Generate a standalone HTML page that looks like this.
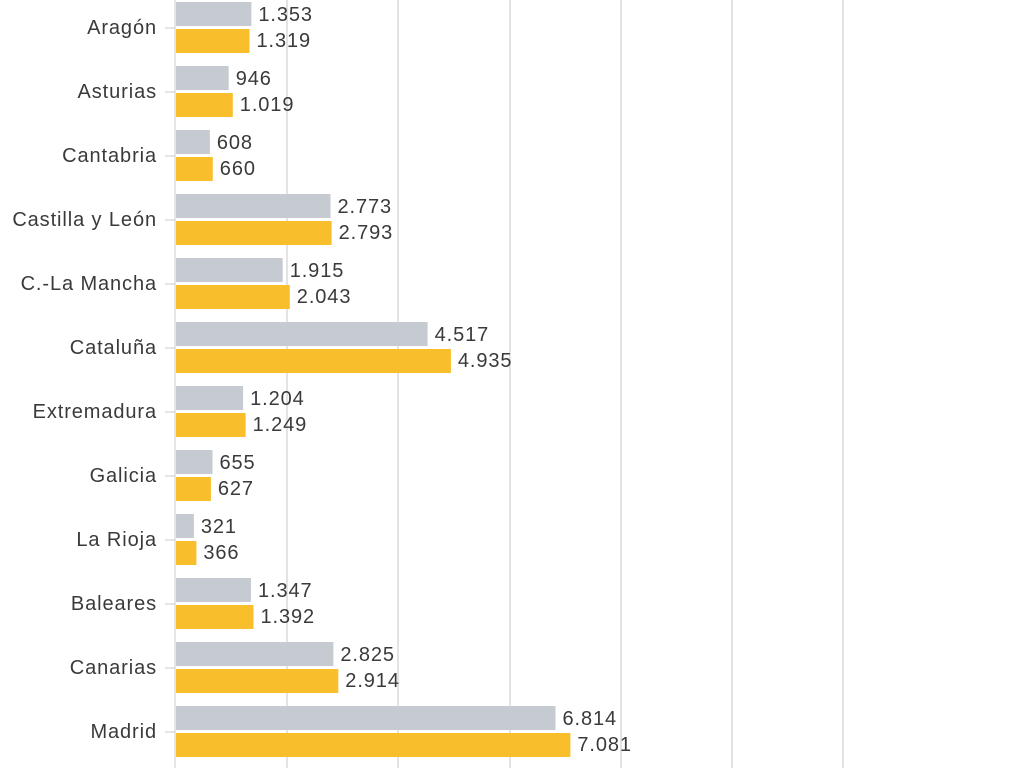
<!DOCTYPE html>
<html><head><meta charset="utf-8"><style>body{margin:0;background:#fff}</style></head><body>
<svg width="1024" height="768" xmlns="http://www.w3.org/2000/svg" font-family="Liberation Sans, sans-serif" font-size="20" letter-spacing="0.9" fill="#3a3a3a">
<g stroke="#e3e3e3" stroke-width="2">
<line x1="287" y1="0" x2="287" y2="768"/><line x1="398" y1="0" x2="398" y2="768"/><line x1="510" y1="0" x2="510" y2="768"/><line x1="621" y1="0" x2="621" y2="768"/><line x1="732" y1="0" x2="732" y2="768"/><line x1="843" y1="0" x2="843" y2="768"/>
</g>
<g stroke="#ccc">
<line x1="165" x2="175" y1="28" y2="28"/><line x1="165" x2="175" y1="92" y2="92"/><line x1="165" x2="175" y1="156" y2="156"/><line x1="165" x2="175" y1="220" y2="220"/><line x1="165" x2="175" y1="284" y2="284"/><line x1="165" x2="175" y1="348" y2="348"/><line x1="165" x2="175" y1="412" y2="412"/><line x1="165" x2="175" y1="476" y2="476"/><line x1="165" x2="175" y1="540" y2="540"/><line x1="165" x2="175" y1="604" y2="604"/><line x1="165" x2="175" y1="668" y2="668"/><line x1="165" x2="175" y1="732" y2="732"/>
<line x1="175" y1="0" x2="175" y2="768"/>
</g>
<g text-anchor="end">
<text x="157" y="34">Aragón</text><text x="157" y="98">Asturias</text><text x="157" y="162">Cantabria</text><text x="157" y="226">Castilla y León</text><text x="157" y="290">C.-La Mancha</text><text x="157" y="354">Cataluña</text><text x="157" y="418">Extremadura</text><text x="157" y="482">Galicia</text><text x="157" y="546">La Rioja</text><text x="157" y="610">Baleares</text><text x="157" y="674">Canarias</text><text x="157" y="738">Madrid</text>
</g>
<g fill="#c6cbd1">
<rect x="176" y="2" width="75.4" height="24"/><rect x="176" y="66" width="52.7" height="24"/><rect x="176" y="130" width="33.9" height="24"/><rect x="176" y="194" width="154.5" height="24"/><rect x="176" y="258" width="106.7" height="24"/><rect x="176" y="322" width="251.6" height="24"/><rect x="176" y="386" width="67.1" height="24"/><rect x="176" y="450" width="36.5" height="24"/><rect x="176" y="514" width="17.9" height="24"/><rect x="176" y="578" width="75" height="24"/><rect x="176" y="642" width="157.4" height="24"/><rect x="176" y="706" width="379.5" height="24"/>
</g>
<g fill="#f8be2c">
<rect x="176" y="29" width="73.5" height="24"/><rect x="176" y="93" width="56.8" height="24"/><rect x="176" y="157" width="36.8" height="24"/><rect x="176" y="221" width="155.6" height="24"/><rect x="176" y="285" width="113.8" height="24"/><rect x="176" y="349" width="274.9" height="24"/><rect x="176" y="413" width="69.6" height="24"/><rect x="176" y="477" width="34.9" height="24"/><rect x="176" y="541" width="20.4" height="24"/><rect x="176" y="605" width="77.5" height="24"/><rect x="176" y="669" width="162.3" height="24"/><rect x="176" y="733" width="394.4" height="24"/>
</g>
<g transform="translate(2,0)">
<text x="256.4" y="21">1.353</text><text x="254.5" y="47">1.319</text>
<text x="233.7" y="85">946</text><text x="237.8" y="111">1.019</text>
<text x="214.9" y="149">608</text><text x="217.8" y="175">660</text>
<text x="335.5" y="213">2.773</text><text x="336.6" y="239">2.793</text>
<text x="287.7" y="277">1.915</text><text x="294.8" y="303">2.043</text>
<text x="432.6" y="341">4.517</text><text x="455.9" y="367">4.935</text>
<text x="248.1" y="405">1.204</text><text x="250.6" y="431">1.249</text>
<text x="217.5" y="469">655</text><text x="215.9" y="495">627</text>
<text x="198.9" y="533">321</text><text x="201.4" y="559">366</text>
<text x="256" y="597">1.347</text><text x="258.5" y="623">1.392</text>
<text x="338.4" y="661">2.825</text><text x="343.3" y="687">2.914</text>
<text x="560.5" y="725">6.814</text><text x="575.4" y="751">7.081</text>
</g>
</svg>
</body></html>
